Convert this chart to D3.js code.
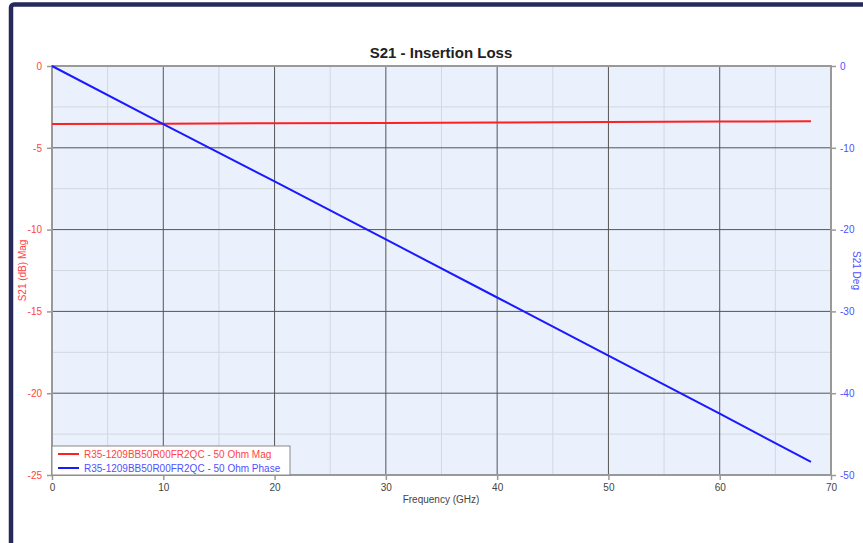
<!DOCTYPE html>
<html>
<head>
<meta charset="utf-8">
<script src="https://cdn.jsdelivr.net/npm/d3@7"></script>
<style>
  body { margin: 0; background: #fff; }
  svg { display: block; font-family: "Liberation Sans", Arial, sans-serif; }
</style>
</head>
<body>
<div id="chart"></div>
<script>
// values
var freq = [0, 10, 20, 30, 40, 50, 60, 68.2];
var mag = [-3.55, -3.53, -3.50, -3.48, -3.45, -3.43, -3.40, -3.37];
var phase = [0, -7.1, -14.1, -21.2, -28.3, -35.4, -42.5, -48.4];
var xTicks = [0, 10, 20, 30, 40, 50, 60, 70];
var magTicks = [0, -5, -10, -15, -20, -25];
var phaseTicks = [0, -10, -20, -30, -40, -50];
var seriesNames = ["R35-1209BB50R00FR2QC - 50 Ohm Mag", "R35-1209BB50R00FR2QC - 50 Ohm Phase"];

var W = 863, H = 543;
var pLeft = 52, pRight = 831, pTop = 66, pBottom = 475;

var svg = d3.select("#chart").append("svg").attr("width", W).attr("height", H);

// outer frame
svg.append("rect").attr("x", 11).attr("y", 4.5).attr("width", W + 20).attr("height", H + 20)
    .attr("rx", 3).attr("fill", "#fff").attr("stroke", "#262a5a").attr("stroke-width", 4.5);

var x = d3.scaleLinear().domain([0, 70]).range([pLeft, pRight]);
var yMag = d3.scaleLinear().domain([-25, 0]).range([pBottom, pTop]);
var yPh = d3.scaleLinear().domain([-50, 0]).range([pBottom, pTop]);

svg.append("rect").attr("x", pLeft).attr("y", pTop).attr("width", pRight - pLeft).attr("height", pBottom - pTop)
    .attr("fill", "#eaf1fd");

var grid = svg.append("g");
// minor grid
d3.range(5, 70, 10).forEach(function (v) {
    grid.append("line").attr("x1", x(v)).attr("x2", x(v)).attr("y1", pTop).attr("y2", pBottom)
        .attr("stroke", "#d3d7de").attr("stroke-width", 1);
});
d3.range(-2.5, -25, -5).forEach(function (v) {
    grid.append("line").attr("x1", pLeft).attr("x2", pRight).attr("y1", yMag(v)).attr("y2", yMag(v))
        .attr("stroke", "#d3d7de").attr("stroke-width", 1);
});
// major grid
xTicks.slice(1, -1).forEach(function (v) {
    grid.append("line").attr("x1", x(v)).attr("x2", x(v)).attr("y1", pTop).attr("y2", pBottom)
        .attr("stroke", "#555").attr("stroke-width", 1);
});
magTicks.slice(1, -1).forEach(function (v) {
    grid.append("line").attr("x1", pLeft).attr("x2", pRight).attr("y1", yMag(v)).attr("y2", yMag(v))
        .attr("stroke", "#555").attr("stroke-width", 1);
});

// plot border
svg.append("rect").attr("x", pLeft).attr("y", pTop).attr("width", pRight - pLeft).attr("height", pBottom - pTop)
    .attr("fill", "none").attr("stroke", "#999").attr("stroke-width", 2);

// axes
var plain = function (d) { return String(d); };
function styleAxis(g, color) {
    g.select(".domain").remove();
    g.selectAll(".tick line").attr("stroke", "#999").attr("stroke-width", 1.5);
    g.selectAll(".tick text").attr("fill", color).style("font-size", "10px");
}
svg.append("g").attr("transform", "translate(0," + pBottom + ")")
    .call(d3.axisBottom(x).tickValues(xTicks).tickFormat(plain).tickSize(5).tickPadding(4))
    .call(styleAxis, "#444");
svg.append("g").attr("transform", "translate(" + pLeft + ",0)")
    .call(d3.axisLeft(yMag).tickValues(magTicks).tickFormat(plain).tickSize(5).tickPadding(5))
    .call(styleAxis, "#ff4444");
svg.append("g").attr("transform", "translate(" + pRight + ",0)")
    .call(d3.axisRight(yPh).tickValues(phaseTicks).tickFormat(plain).tickSize(5).tickPadding(4))
    .call(styleAxis, "#5050ff");

// lines
var magLine = d3.line().x(function (d, i) { return x(freq[i]); }).y(function (d) { return yMag(d); });
var phLine = d3.line().x(function (d, i) { return x(freq[i]); }).y(function (d) { return yPh(d); });
svg.append("path").datum(mag).attr("d", magLine).attr("fill", "none").attr("stroke", "#ff2020").attr("stroke-width", 2);
svg.append("path").datum(phase).attr("d", phLine).attr("fill", "none").attr("stroke", "#1a1aff").attr("stroke-width", 2);

// title and axis labels
svg.append("text").attr("x", 441).attr("y", 58).attr("text-anchor", "middle")
    .style("font-size", "15px").style("font-weight", "bold").attr("fill", "#222").text("S21 - Insertion Loss");
svg.append("text").attr("x", 441).attr("y", 503).attr("text-anchor", "middle")
    .style("font-size", "10px").attr("fill", "#444").text("Frequency (GHz)");
svg.append("text").attr("transform", "translate(26," + ((pTop + pBottom) / 2) + ") rotate(-90)")
    .attr("text-anchor", "middle").style("font-size", "10px").attr("fill", "#ff4444").text("S21 (dB) Mag");
svg.append("text").attr("transform", "translate(853," + ((pTop + pBottom) / 2) + ") rotate(90)")
    .attr("text-anchor", "middle").style("font-size", "10px").attr("fill", "#5050ff").text("S21 Deg");

// legend
var lg = svg.append("g");
lg.append("rect").attr("x", pLeft).attr("y", 446).attr("width", 238).attr("height", pBottom - 446)
    .attr("fill", "#fff").attr("stroke", "#888").attr("stroke-width", 1);
var lcolors = ["#ff2020", "#1a1aff"], tcolors = ["#ff4444", "#5050ff"];
seriesNames.forEach(function (name, i) {
    var yy = 454 + i * 14;
    lg.append("line").attr("x1", 58).attr("x2", 79).attr("y1", yy).attr("y2", yy)
        .attr("stroke", lcolors[i]).attr("stroke-width", 2);
    lg.append("text").attr("x", 84).attr("y", yy + 3.5).style("font-size", "10px")
        .attr("fill", tcolors[i]).text(name);
});
</script>
</body>
</html>
